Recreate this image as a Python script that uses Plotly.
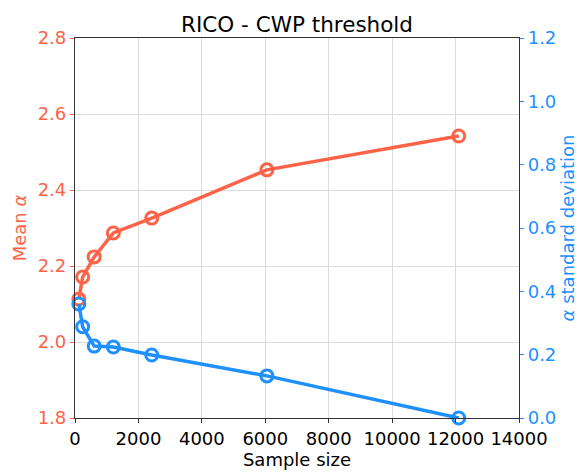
import plotly.graph_objects as go
from plotly.subplots import make_subplots

sample_size = [121, 242, 605, 1210, 2420, 6050, 12100]
mean_alpha = [2.113, 2.171, 2.224, 2.287, 2.326, 2.453, 2.542]
std_alpha = [0.360, 0.288, 0.227, 0.224, 0.199, 0.133, 0.0]
x_ticks = [0, 2000, 4000, 6000, 8000, 10000, 12000, 14000]
left_ticks = [1.8, 2.0, 2.2, 2.4, 2.6, 2.8]
right_ticks = [0.0, 0.2, 0.4, 0.6, 0.8, 1.0, 1.2]

red = "#ff6347"
blue = "#1e90ff"
font = "DejaVu Sans"

fig = make_subplots(specs=[[{"secondary_y": True}]])
fig.add_trace(go.Scatter(x=sample_size, y=mean_alpha, mode="lines+markers",
                         line=dict(color=red, width=3.5),
                         marker=dict(symbol="circle-open", size=12, color=red, line=dict(width=3, color=red)),
                         showlegend=False, cliponaxis=False), secondary_y=False)
fig.add_trace(go.Scatter(x=sample_size, y=std_alpha, mode="lines+markers",
                         line=dict(color=blue, width=3.5),
                         marker=dict(symbol="circle-open", size=12, color=blue, line=dict(width=3, color=blue)),
                         showlegend=False, cliponaxis=False), secondary_y=True)

fig.update_layout(
    width=582, height=472,
    margin=dict(l=75, r=63, t=38, b=54),
    plot_bgcolor="white", paper_bgcolor="white",
    font=dict(family=font, size=18, color="black"),
    title=dict(text="RICO - CWP threshold", x=0.5, xanchor="center", xref="paper",
               y=1, yref="paper", yanchor="bottom", pad=dict(b=6),
               font=dict(size=21.5, color="black")),
)
fig.update_xaxes(range=[0, 14000], tickvals=x_ticks, ticktext=[str(v) for v in x_ticks],
                 domain=[0, 1], automargin=False,
                 showgrid=True, gridcolor="#dcdcdc", gridwidth=1,
                 showline=True, linecolor="#333333", linewidth=1.2, mirror=True,
                 ticks="outside", ticklen=4, tickcolor="#333333",
                 title=dict(text="Sample size", standoff=2, font=dict(size=18)),
                 zeroline=False)
fig.update_yaxes(range=[1.8, 2.8], tickvals=left_ticks, tickformat=".1f", automargin=False,
                 showgrid=True, gridcolor="#dcdcdc", gridwidth=1,
                 showline=True, linecolor="#333333", linewidth=1.2,
                 ticks="outside", ticklen=4, tickcolor=red,
                 tickfont=dict(color=red),
                 title=dict(text="Mean <i>α</i>", font=dict(color=red, size=18), standoff=6),
                 zeroline=False, secondary_y=False)
fig.update_yaxes(range=[0, 1.2], tickvals=right_ticks, tickformat=".1f", automargin=False,
                 showgrid=False,
                 showline=True, linecolor="#333333", linewidth=1.2,
                 ticks="outside", ticklen=4, tickcolor=blue,
                 tickfont=dict(color=blue),
                 title=dict(text="<i>α</i> standard deviation", font=dict(color=blue, size=18), standoff=6),
                 zeroline=False, secondary_y=True)

fig.write_html("out.html")
